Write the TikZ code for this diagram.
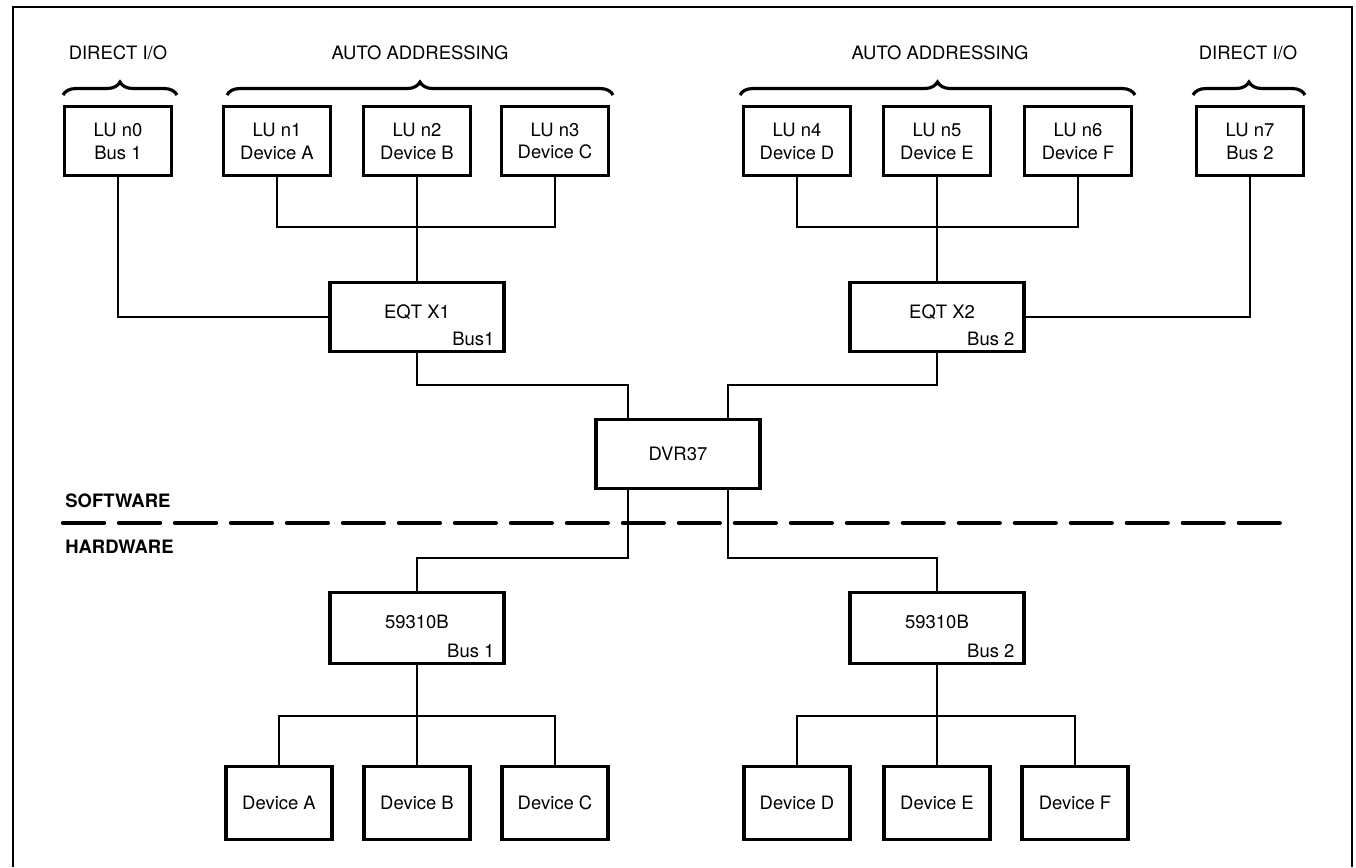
\documentclass[tikz,border=0pt]{standalone}
\usepackage{fontspec}
\setmainfont{TeX Gyre Heros}
\usetikzlibrary{positioning, calc, decorations.pathreplacing}
\tikzset{
    lubox/.style={
        rectangle,
        draw=black,
        line width=2pt,
        minimum width=2.14cm,
        minimum height=1.38cm,
        align=center,
        fill=white,
        font=\fontsize{10.5}{13}\selectfont
    },
    ctrlbox/.style={
        rectangle,
        draw=black,
        line width=2pt,
        minimum width=3.48cm,
        minimum height=1.38cm,
        fill=white
    },
    devbox/.style={
        rectangle,
        draw=black,
        line width=2pt,
        minimum width=2.12cm,
        minimum height=1.46cm,
        fill=white,
        font=\fontsize{10.5}{13}\selectfont
    },
    boxtext/.style={
        font=\fontsize{10.5}{13}\selectfont,
        inner sep=0pt
    },
    buslabel/.style={
        font=\fontsize{10.5}{13}\selectfont,
        inner xsep=0.22cm,
        inner ysep=0.15cm,
        anchor=south east
    },
    grouplabel/.style={
        font=\fontsize{10.5}{13}\selectfont
    },
    layerlabel/.style={
        font=\fontsize{10.5}{13}\selectfont\bfseries,
        anchor=west,
        inner sep=0pt
    },
    wire/.style={
        draw=black,
        line width=1.3pt
    },
    brace/.style={
        decorate,
        decoration={brace, amplitude=0.26cm},
        line width=1.8pt
    },
    divider/.style={
        draw=black,
        line width=2.4pt,
        dash pattern=on 0.82cm off 0.3cm,
        line cap=round
    },
    frame/.style={
        draw=black,
        line width=1.4pt
    }
}

\begin{document}
\begin{tikzpicture}[x=0.02cm, y=-0.02cm]
\useasboundingbox (0,0) rectangle (1356,867);

% Frame (open at the bottom)
\draw[frame] (13,867) -- (13,7) -- (1352,7) -- (1352,867);

% Group labels and braces
\node[grouplabel] (dio1) at (118,53) {DIRECT I/O};
\node[grouplabel] (auto1) at (420,53) {AUTO ADDRESSING};
\node[grouplabel] (auto2) at (940,53) {AUTO ADDRESSING};
\node[grouplabel] (dio2) at (1248,53) {DIRECT I/O};

\draw[brace] (63,95) -- (177,95);
\draw[brace] (227,95) -- (613,95);
\draw[brace] (740,95) -- (1135,95);
\draw[brace] (1193,95) -- (1305,95);

% Logical units
\node[lubox] (lu0) at (118,141) {LU n0\\Bus 1};
\node[lubox] (lu1) at (277,141) {LU n1\\Device A};
\node[lubox] (lu2) at (417,141) {LU n2\\Device B};
\node[lubox] (lu3) at (555,141) {LU n3\\Device C};
\node[lubox] (lu4) at (797,141) {LU n4\\Device D};
\node[lubox] (lu5) at (937,141) {LU n5\\Device E};
\node[lubox] (lu6) at (1078,141) {LU n6\\Device F};
\node[lubox] (lu7) at (1250,141) {LU n7\\Bus 2};

% EQT entries
\node[ctrlbox] (eqt1) at (417,317) {};
\node[boxtext] (eqt1name) at ([yshift=0.1cm]eqt1.center) {EQT X1};
\node[buslabel] (eqt1bus) at (eqt1.south east) {Bus1};

\node[ctrlbox] (eqt2) at (937,317) {};
\node[boxtext] (eqt2name) at ([xshift=0.1cm, yshift=0.1cm]eqt2.center) {EQT X2};
\node[buslabel] (eqt2bus) at (eqt2.south east) {Bus 2};

% Driver
\node[ctrlbox, minimum width=3.28cm] (dvr) at (678,454) {};
\node[boxtext] (dvrname) at (dvr.center) {DVR37};

% Interface cards
\node[ctrlbox, minimum height=1.42cm] (hw1) at (417,628) {};
\node[boxtext] (hw1name) at ([yshift=0.12cm]hw1.center) {59310B};
\node[buslabel] (hw1bus) at (hw1.south east) {Bus 1};

\node[ctrlbox, minimum height=1.42cm] (hw2) at (937,628) {};
\node[boxtext] (hw2name) at ([yshift=0.12cm]hw2.center) {59310B};
\node[buslabel] (hw2bus) at (hw2.south east) {Bus 2};

% Devices
\node[devbox] (devA) at (279,803) {Device A};
\node[devbox] (devB) at (417,803) {Device B};
\node[devbox] (devC) at (555,803) {Device C};
\node[devbox] (devD) at (797,803) {Device D};
\node[devbox] (devE) at (937,803) {Device E};
\node[devbox] (devF) at (1075,803) {Device F};

% Software / hardware boundary
\node[layerlabel] (sw) at (65,501) {SOFTWARE};
\node[layerlabel] (hw) at (65,547) {HARDWARE};
\coordinate (divL) at (63,523);
\coordinate (divR) at (1288,523);
\draw[divider] (divL) -- (divR);

% Bus rows
\coordinate (lubus) at (0,227);
\coordinate (upbus) at (0,385);
\coordinate (lowbus) at (0,558);
\coordinate (devbus) at (0,716);
\coordinate (dvrNL) at ([xshift=-1cm]dvr.north);
\coordinate (dvrNR) at ([xshift=1cm]dvr.north);
\coordinate (dvrSL) at ([xshift=-1cm]dvr.south);
\coordinate (dvrSR) at ([xshift=1cm]dvr.south);

% LUs to EQT
\draw[wire] (lu1.south) |- (lu2.south |- lubus) -| (lu3.south);
\draw[wire] (lu2.south) -- (eqt1.north);
\draw[wire] (lu4.south) |- (lu5.south |- lubus) -| (lu6.south);
\draw[wire] (lu5.south) -- (eqt2.north);
\draw[wire] (lu0.south) |- (eqt1.west);
\draw[wire] (lu7.south) |- (eqt2.east);

% EQT to driver
\draw[wire] (eqt1.south) |- (dvrNL |- upbus) -- (dvrNL);
\draw[wire] (eqt2.south) |- (dvrNR |- upbus) -- (dvrNR);

% Driver to interface cards
\draw[wire] (dvrSL) |- (hw1.north |- lowbus) -- (hw1.north);
\draw[wire] (dvrSR) |- (hw2.north |- lowbus) -- (hw2.north);

% Interface cards to devices
\draw[wire] (devA.north) |- (devB.north |- devbus) -| (devC.north);
\draw[wire] (hw1.south) -- (devB.north);
\draw[wire] (devD.north) |- (devE.north |- devbus) -| (devF.north);
\draw[wire] (hw2.south) -- (devE.north);

\end{tikzpicture}
\end{document}
